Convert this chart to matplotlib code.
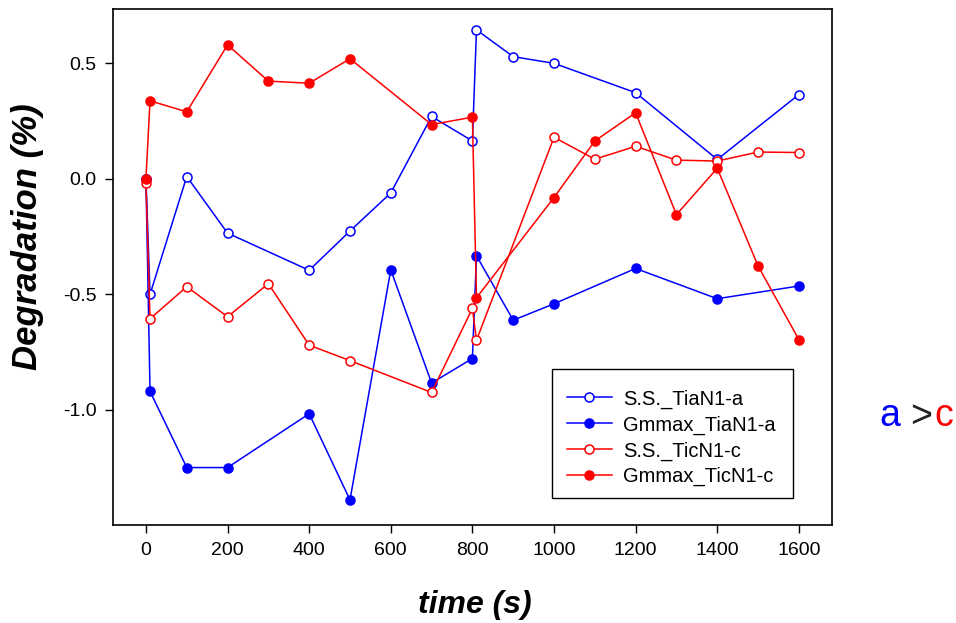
import matplotlib
matplotlib.use("Agg")
import matplotlib.pyplot as plt
from matplotlib.patches import Rectangle

plt.rcParams['font.family'] = ['Liberation Sans', 'DejaVu Sans']

# time (s)
t_ss_a = [0, 10, 100, 200, 400, 500, 600, 700, 800, 810, 900, 1000, 1200, 1400, 1600]
ss_a = [0.0, -0.50, 0.01, -0.235, -0.396, -0.226, -0.061, 0.27, 0.164, 0.645, 0.529, 0.50, 0.373, 0.084, 0.365]

t_gm_a = [0, 10, 100, 200, 400, 500, 600, 700, 800, 810, 900, 1000, 1200, 1400, 1600]
gm_a = [0.0, -0.92, -1.25, -1.25, -1.017, -1.39, -0.394, -0.884, -0.778, -0.333, -0.612, -0.541, -0.388, -0.519, -0.464]

t_ss_c = [0, 10, 100, 200, 300, 400, 500, 700, 800, 810, 1000, 1100, 1200, 1300, 1400, 1500, 1600]
ss_c = [-0.02, -0.606, -0.467, -0.597, -0.454, -0.72, -0.787, -0.925, -0.561, -0.699, 0.18, 0.085, 0.141, 0.081, 0.077, 0.116, 0.114]

t_gm_c = [0, 10, 100, 200, 300, 400, 500, 700, 800, 810, 1000, 1100, 1200, 1300, 1400, 1500, 1600]
gm_c = [0.0, 0.338, 0.29, 0.58, 0.423, 0.414, 0.52, 0.235, 0.267, -0.515, -0.081, 0.164, 0.286, -0.155, 0.046, -0.377, -0.696]

labels = ['S.S._TiaN1-a', 'Gmmax_TiaN1-a', 'S.S._TicN1-c', 'Gmmax_TicN1-c']
xticks = [0, 200, 400, 600, 800, 1000, 1200, 1400, 1600]
yticks = [-1.0, -0.5, 0.0, 0.5]

W, H = 956, 623
AX_L, AX_R, AX_T, AX_B = 113.3, 831.5, 9.3, 525.3
AW, AH = AX_R - AX_L, AX_B - AX_T
fig = plt.figure(figsize=(W / 100, H / 100), dpi=100)
ax = fig.add_axes([AX_L / W, 1 - AX_B / H, AW / W, AH / H])

def ax_xy(px, py):
    return (px - AX_L) / AW, (AX_B - py) / AH

common = dict(lw=1.1, ms=6.5, mew=1.1)
ax.plot(t_ss_a, ss_a, '-o', color='#0000ff', mfc='white', mec='#0000ff', label=labels[0], **common)
ax.plot(t_gm_a, gm_a, '-o', color='#0000ff', mfc='#0000ff', mec='#0000ff', label=labels[1], **common)
ax.plot(t_ss_c, ss_c, '-o', color='#ff0000', mfc='white', mec='#ff0000', label=labels[2], **common)
ax.plot(t_gm_c, gm_c, '-o', color='#ff0000', mfc='#ff0000', mec='#ff0000', label=labels[3], **common)

ax.set_xlim(-80, 1680)
ax.set_ylim(-1.5, 0.734)
ax.set_xticks(xticks)
ax.set_xticklabels([str(v) for v in xticks])
ax.set_yticks(yticks)
ax.set_yticklabels([f'{v:.1f}' for v in yticks])
ax.tick_params(direction='out', length=6, width=1, labelsize=14, pad=6, colors='black')
for s in ax.spines.values():
    s.set_linewidth(1.2)
    s.set_color('black')

ax.set_xlabel('time (s)', fontsize=23, fontweight='bold', fontstyle='italic', va='center', ha='center')
ax.xaxis.set_label_coords(*ax_xy(475, 605))
ax.set_ylabel('Degradation (%)', fontsize=25, fontweight='bold', fontstyle='italic', va='center', ha='center')
ax.yaxis.set_label_coords(*ax_xy(27.5, 236.5))

# legend frame
x0, y0 = ax_xy(552.3, 498)
x1, y1 = ax_xy(793, 369)
ax.add_patch(Rectangle((x0, y0), x1 - x0, y1 - y0, transform=ax.transAxes, fill=True,
                       facecolor='white', edgecolor='black', lw=1.0, zorder=4))
leg = ax.legend(loc='upper left', bbox_to_anchor=ax_xy(552.3, 375),
                fontsize=14.5, frameon=False,
                handlelength=2.23, handletextpad=0.55, labelspacing=0.33, borderpad=0.72,
                borderaxespad=0, numpoints=1)
leg.set_zorder(5)

tk = dict(fontsize=27, ha='center', va='baseline', family=['Liberation Sans Narrow', 'Liberation Sans'])
fig.text(889.5 / W, 1 - 426 / H, 'a', color='#0000ff', **tk)
fig.text(921 / W, 1 - 427 / H, '>', color='#222222', **tk)
fig.text(944 / W, 1 - 426 / H, 'c', color='#ff0000', **tk)

fig.savefig('out.png', dpi=100)
